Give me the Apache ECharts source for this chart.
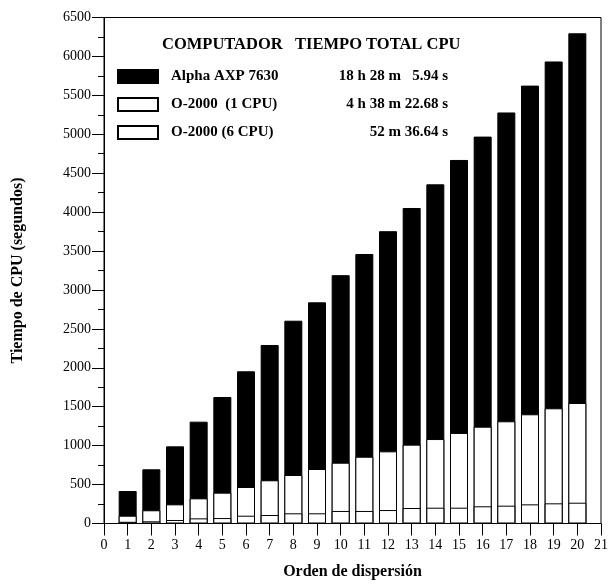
<!DOCTYPE html>
<html>
<head>
<meta charset="utf-8">
<script src="https://cdn.jsdelivr.net/npm/echarts@6/dist/echarts.min.js"></script>
<style>html,body{margin:0;padding:0;background:#fff}#c{width:611px;height:585px}</style>
</head>
<body>
<div id="c"></div>
<script>
var orders = [1,2,3,4,5,6,7,8,9,10,11,12,13,14,15,16,17,18,19,20];
var alpha = [417,696,991,1308,1625,1955,2293,2605,2841,3190,3462,3755,4053,4357,4670,4970,5280,5625,5935,6297];
var o2000one = [100,170,246,323,396,469,555,623,700,781,858,927,1013,1085,1163,1244,1313,1403,1480,1548];
var o2000six = [22,28,45,66,70,100,109,131,131,161,161,173,199,203,203,221,229,246,259,267];
var seriesNames = ['Alpha AXP 7630','O-2000  (1 CPU)','O-2000 (6 CPU)'];
var totalTimes = ['18 h 28 m   5.94 s','4 h 38 m 22.68 s','52 m 36.64 s'];
var legendTitle = 'COMPUTADOR   TIEMPO TOTAL CPU';
var xTicks = [0,1,2,3,4,5,6,7,8,9,10,11,12,13,14,15,16,17,18,19,20,21];
var yAxisName = 'Tiempo de CPU (segundos)';
var xAxisName = 'Orden de dispersión';

function pairs(v){ return orders.map(function(o,i){ return [o, v[i]]; }); }
var FONT = '"Liberation Serif", "DejaVu Serif", serif';
var chart = echarts.init(document.getElementById('c'), null, {renderer:'canvas'});
var timeMap = {};
seriesNames.forEach(function(n,i){ timeMap[n] = totalTimes[i]; });

chart.setOption({
  animation: false,
  backgroundColor: '#fff',
  grid: {left:104, right:6, top:17.5, bottom:61.5, show:true, borderColor:'#000', borderWidth:1},
  graphic: [{
    type:'text', left:162, top:36,
    style:{text: legendTitle, font:'bold 16.5px ' + FONT, fill:'#000'}
  }],
  legend: {
    orient:'vertical', left:112, top:64, itemWidth:40, itemHeight:13, itemGap:13,
    icon:'rect', selectedMode:false,
    data: seriesNames,
    formatter: function(n){ return '{n|' + n + '}{t|' + timeMap[n] + '}'; },
    textStyle: {
      fontFamily: FONT, fontWeight:'bold', fontSize:15, color:'#000',
      rich: {
        n:{fontFamily:FONT, fontWeight:'bold', fontSize:15, width:122, padding:[0,0,0,8], lineHeight:17},
        t:{fontFamily:FONT, fontWeight:'bold', fontSize:15, width:155, align:'right', lineHeight:17}
      }
    }
  },
  xAxis: {
    type:'value', min:0, max:21, interval:1,
    name: xAxisName, nameLocation:'middle', nameGap:40,
    nameTextStyle:{fontFamily:FONT, fontWeight:'bold', fontSize:16, color:'#000'},
    axisLine:{onZero:false, lineStyle:{color:'#000', width:1}},
    axisTick:{show:true, length:12, lineStyle:{color:'#000'}},
    splitLine:{show:false},
    axisLabel:{fontFamily:FONT, fontSize:14, color:'#000', margin:15,
      formatter:function(v){ return xTicks.indexOf(v) >= 0 ? String(v) : ''; }}
  },
  yAxis: {
    type:'value', min:0, max:6500, interval:500,
    name: yAxisName, nameLocation:'middle', nameGap:78,
    nameTextStyle:{fontFamily:FONT, fontWeight:'bold', fontSize:16, color:'#000'},
    axisLine:{show:true, lineStyle:{color:'#000', width:1}},
    axisTick:{show:true, length:12, lineStyle:{color:'#000'}},
    minorTick:{show:true, splitNumber:2, length:6, lineStyle:{color:'#000'}},
    splitLine:{show:false},
    axisLabel:{fontFamily:FONT, fontSize:14, color:'#000', margin:13,
      formatter:function(v){ return String(v); }}
  },
  series: [
    {name:seriesNames[0], type:'bar', barWidth:18, barGap:'-100%', data:pairs(alpha),
     itemStyle:{color:'#000', borderColor:'#000', borderWidth:1}},
    {name:seriesNames[1], type:'bar', barWidth:18, barGap:'-100%', data:pairs(o2000one),
     itemStyle:{color:'#fff', borderColor:'#000', borderWidth:1}},
    {name:seriesNames[2], type:'bar', barWidth:18, barGap:'-100%', data:pairs(o2000six),
     itemStyle:{color:'#fff', borderColor:'#000', borderWidth:1}}
  ]
});
</script>
</body>
</html>
